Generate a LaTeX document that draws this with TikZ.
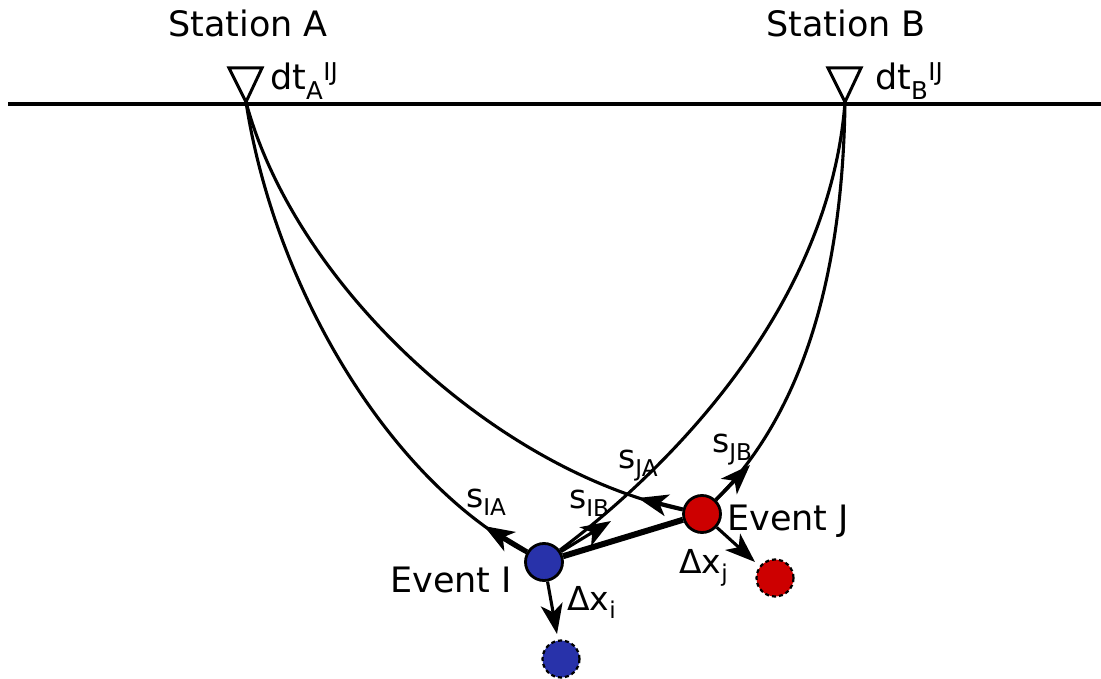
\documentclass[tikz,border=0pt]{standalone}
\usepackage{fontspec}
\setmainfont{DejaVu Sans}
\usetikzlibrary{arrows.meta}
\definecolor{evblue}{RGB}{40,50,170}
\definecolor{evred}{RGB}{205,0,0}
\begin{document}
\begin{tikzpicture}[x=1pt,y=-1pt,
  ray/.style={line width=3.1pt},
  myhead/.style={-{Stealth[length=30pt,width=22pt,inset=8pt]}},
  slow/.style={line width=4.8pt,myhead},
  smid/.style={line width=3.6pt,myhead},
  sthin/.style={line width=3.1pt,myhead},
  event/.style={circle,draw=black,line width=2.8pt,minimum size=37pt,inner sep=0pt},
  moved/.style={circle,draw=black,dash pattern=on 4pt off 3pt,line width=2.2pt,minimum size=37pt,inner sep=0pt},
  big/.style={font=\fontsize{35}{42}\selectfont,inner sep=0pt},
  lab/.style={font=\fontsize{33}{40}\selectfont,inner sep=0pt},
  sta/.style={line width=3pt,line join=miter}]
\useasboundingbox (0,0) rectangle (1101,679);
% surface
\coordinate (L) at (8,104);
\coordinate (R) at (1101,104);
\draw[line width=3.6pt] (L) -- (R);
% stations
\coordinate (A) at (246,102);
\coordinate (B) at (845,102);
\coordinate (A1) at (229,68);
\coordinate (A2) at (262,68);
\coordinate (B1) at (828,68);
\coordinate (B2) at (861,68);
\draw[sta] (A1) -- (A2) -- (A) -- cycle;
\draw[sta] (B1) -- (B2) -- (B) -- cycle;
\node[big,anchor=base] (stA) at (248,37) {Station A};
\node[big,anchor=base] (stB) at (846,37) {Station B};
\node[big,anchor=base west] (dtA) at (270,90) {dt\textsubscript{A}\textsuperscript{IJ}};
\node[big,anchor=base west] (dtB) at (875,90) {dt\textsubscript{B}\textsuperscript{IJ}};
% events
\node[event,fill=evblue] (I) at (544,562) {};
\node[event,fill=evred] (J) at (702,514) {};
\node[moved,fill=evblue] (I2) at (561,659) {};
\node[moved,fill=evred] (J2) at (775,578) {};
% rays
\draw[ray] (A) .. controls (275,290) and (390,480) .. (I);
\draw[ray] (A) .. controls (295,285) and (495,470) .. (J);
\draw[ray] (B) .. controls (830,300) and (680,460) .. (I);
\draw[ray] (B) .. controls (842,330) and (775,440) .. (J);
% slowness vectors
\coordinate (tIA) at (484,526);
\coordinate (tIB) at (611,521);
\coordinate (tJA) at (638,498);
\coordinate (tJB) at (750,465);
\draw[slow] (I) -- (tIA);
\draw[sthin] (I) -- (tIB);
\draw[smid] (J) -- (tJA);
\draw[smid] (J) -- (tJB);
% link
\draw[line width=6pt] (I) -- (J);
% shifts
\coordinate (dI) at (557,634);
\coordinate (dJ) at (755,562);
\draw[sthin] (I) -- (dI);
\draw[sthin] (J) -- (dJ);
% labels
\node[big,anchor=base west] (lI) at (390,592) {Event I};
\node[big,anchor=base west] (lJ) at (727,530) {Event J};
\node[lab,anchor=base west] (sIA) at (466,507) {s\textsubscript{IA}};
\node[lab,anchor=base west] (sIB) at (569,508) {s\textsubscript{IB}};
\node[lab,anchor=base west] (sJA) at (618,468) {s\textsubscript{JA}};
\node[lab,anchor=base west] (sJB) at (712,452) {s\textsubscript{JB}};
\node[lab,anchor=base west] (xi) at (567,610) {Δx\textsubscript{i}};
\node[lab,anchor=base west] (xj) at (679,573) {Δx\textsubscript{j}};
\end{tikzpicture}
\end{document}
